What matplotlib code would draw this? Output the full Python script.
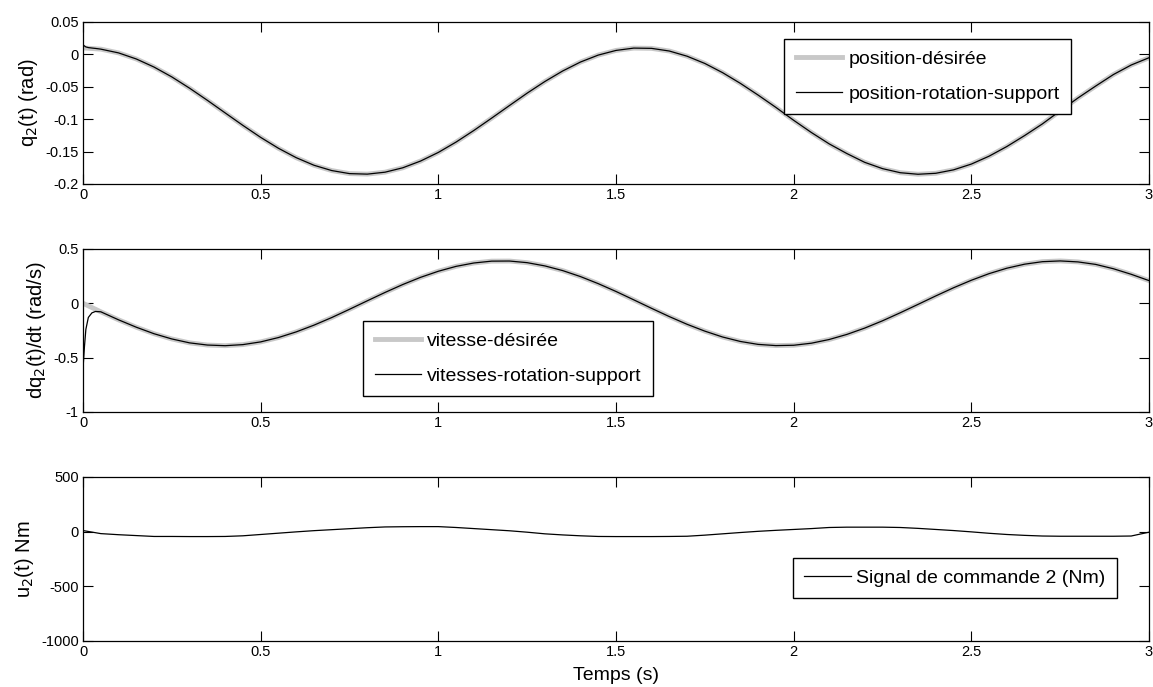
import numpy as np
import matplotlib
matplotlib.use('Agg')
import matplotlib.pyplot as plt

plt.rcParams['font.family'] = ['Liberation Sans', 'DejaVu Sans']

# time grid (0.05 s steps)
t = [round(0.05 * i, 2) for i in range(61)]

q_des = [0.010, 0.0081, 0.0023, -0.0071, -0.0196, -0.0348, -0.0522, -0.0709, -0.0903, -0.1096,
         -0.1281, -0.1449, -0.1594, -0.1711, -0.1793, -0.1840, -0.1848, -0.1818, -0.1750, -0.1646,
         -0.1513, -0.1353, -0.1174, -0.0984, -0.0790, -0.0598, -0.0418, -0.0256, -0.0118, -0.0011,
         0.0061, 0.0097, 0.0093, 0.0052, -0.0028, -0.0140, -0.0282, -0.0447, -0.0628, -0.0818,
         -0.1017, -0.1206, -0.1381, -0.1531, -0.1666, -0.1763, -0.1826, -0.1850, -0.1835, -0.1782,
         -0.1693, -0.1571, -0.1422, -0.1253, -0.1073, -0.0871, -0.0673, -0.0489, -0.0311, -0.0164,
         -0.0052]

v_des = [0.0, -0.078, -0.152, -0.220, -0.280, -0.328, -0.364, -0.384, -0.390, -0.380,
         -0.355, -0.315, -0.263, -0.201, -0.131, -0.055, 0.023, 0.100, 0.173, 0.239,
         0.295, 0.340, 0.371, 0.388, 0.389, 0.374, 0.344, 0.301, 0.246, 0.181,
         0.109, 0.032, -0.046, -0.122, -0.193, -0.256, -0.310, -0.351, -0.378, -0.389,
         -0.386, -0.367, -0.333, -0.286, -0.228, -0.161, -0.087, -0.010, 0.068, 0.143,
         0.212, 0.273, 0.323, 0.360, 0.383, 0.390, 0.381, 0.358, 0.318, 0.267,
         0.209]

# start-up transient of the measured signals
t_start = [0.0, 0.004, 0.008, 0.015, 0.025, 0.035]
q_start = [0.015, 0.013, 0.0115, 0.0105, 0.0098, 0.0092]
v_start = [-0.60, -0.40, -0.24, -0.13, -0.088, -0.075]

q_act = q_start + q_des[1:]
v_act = v_start + v_des[1:]
t_act = t_start + t[1:]

u_cmd = [10, -18, -28, -36, -44, -44, -45, -45, -44, -38,
         -26, -14, -2, 9, 18, 27, 36, 43, 45, 46,
         46, 38, 28, 18, 8, -5, -20, -30, -38, -44,
         -45, -45, -45, -44, -42, -32, -20, -8, 3, 12,
         20, 28, 38, 41, 41, 41, 38, 30, 20, 10,
         -2, -15, -26, -34, -40, -42, -42, -42, -42, -40,
         -5]

xticks = [0, 0.5, 1, 1.5, 2, 2.5, 3]
xticklabels = ['0', '0.5', '1', '1.5', '2', '2.5', '3']

fig = plt.figure(figsize=(11.53, 6.87), dpi=100)
ax1 = fig.add_axes([0.072, 0.7322, 0.9245, 0.2358])
ax2 = fig.add_axes([0.072, 0.4003, 0.9245, 0.2373])
ax3 = fig.add_axes([0.072, 0.067, 0.9245, 0.2387])

gray = '#c8c8c8'
leg_kw = dict(borderaxespad=0, fontsize=14, fancybox=False, edgecolor='black',
              framealpha=1, handlelength=2.4, handletextpad=0.3, borderpad=0.58,
              labelspacing=0.9)

ax1.plot(t, q_des, color=gray, lw=3.5, label='position-désirée')
ax1.plot(t_act, q_act, color='black', lw=0.9, label='position-rotation-support')
ax1.set_ylim(-0.2, 0.05)
ax1.set_yticks([0.05, 0, -0.05, -0.1, -0.15, -0.2])
ax1.set_yticklabels(['0.05', '0', '-0.05', '-0.1', '-0.15', '-0.2'])
ax1.set_ylabel('q$_2$(t) (rad)', fontsize=14.5)
ax1.legend(loc='upper left', bbox_to_anchor=(0.658, 0.895), **leg_kw)

ax2.plot(t, v_des, color=gray, lw=3.5, label='vitesse-désirée')
ax2.plot(t_act, v_act, color='black', lw=0.9, label='vitesses-rotation-support')
ax2.set_ylim(-1, 0.5)
ax2.set_yticks([0.5, 0, -0.5, -1])
ax2.set_yticklabels(['0.5', '0', '-0.5', '-1'])
ax2.set_ylabel('dq$_2$(t)/dt (rad/s)', fontsize=14.5)
ax2.legend(loc='upper left', bbox_to_anchor=(0.263, 0.558), **leg_kw)

ax3.plot(t, u_cmd, color='black', lw=0.9, label='Signal de commande 2 (Nm)')
ax3.set_ylim(-1000, 500)
ax3.set_yticks([500, 0, -500, -1000])
ax3.set_yticklabels(['500', '0', '-500', '-1000'])
ax3.set_ylabel('u$_2$(t) Nm', fontsize=14.5)
ax3.set_xlabel('Temps (s)', fontsize=14, labelpad=6)
ax3.legend(loc='upper right', bbox_to_anchor=(0.970, 0.506), **leg_kw)

for ax in (ax1, ax2, ax3):
    ax.set_xlim(0, 3)
    ax.set_xticks(xticks)
    ax.set_xticklabels(xticklabels)
    ax.tick_params(direction='in', length=7, width=0.8, top=True, right=True,
                   labelsize=10.5, pad=3)
    for s in ax.spines.values():
        s.set_linewidth(0.9)

fig.savefig('out.png', dpi=100)
plt.close(fig)
